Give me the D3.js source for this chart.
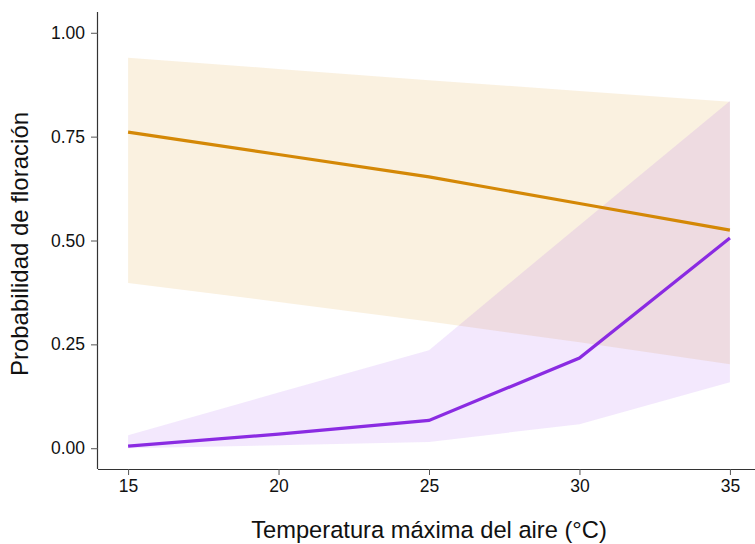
<!DOCTYPE html>
<html>
<head>
<meta charset="utf-8">
<script src="https://cdn.jsdelivr.net/npm/d3@7"></script>
<style>
  body { margin: 0; background: #fff; }
  text { font-family: "Liberation Sans", Arial, sans-serif; }
</style>
</head>
<body>
<div id="chart-container"></div>
<script>
// temperatures (°C)
const temps = [15, 20, 25, 30, 35]

// series 1 (orange)
const orangeFit = [0.761, 0.707, 0.653, 0.589, 0.525]
const orangeLow = [0.398, 0.352, 0.305, 0.255, 0.202]
const orangeHigh = [0.940, 0.913, 0.886, 0.860, 0.834]

// series 2 (purple)
const purpleFit = [0.005, 0.034, 0.067, 0.217, 0.506]
const purpleLow = [0.000, 0.007, 0.015, 0.058, 0.159]
const purpleHigh = [0.031, 0.134, 0.236, 0.537, 0.836]

const yTicks = [0, 0.25, 0.5, 0.75, 1]
const xTicks = [15, 20, 25, 30, 35]

const w = 755, h = 544

const svg = d3.select('#chart-container')
  .append('svg')
  .attr('width', w)
  .attr('height', h)

const xScale = d3.scaleLinear()
  .domain([14, 36])
  .range([98, 760])

const yScale = d3.scaleLinear()
  .domain([-0.05, 1.05])
  .range([469, 12])

const series = [
  { fit: orangeFit, low: orangeLow, high: orangeHigh, color: '#d48806', fill: '#d98e04', alpha: 0.12 },
  { fit: purpleFit, low: purpleLow, high: purpleHigh, color: '#8a2be2', fill: '#a040f0', alpha: 0.12 }
]

const area = d3.area()
  .x(d => xScale(d.t))
  .y0(d => yScale(d.lo))
  .y1(d => yScale(d.hi))

const line = d3.line()
  .x(d => xScale(d.t))
  .y(d => yScale(d.v))

// ribbons
series.forEach(s => {
  svg.append('path')
    .datum(temps.map((t, i) => ({ t, lo: s.low[i], hi: s.high[i] })))
    .attr('d', area)
    .attr('fill', s.fill)
    .attr('fill-opacity', s.alpha)
})

// fitted lines
series.forEach(s => {
  svg.append('path')
    .datum(temps.map((t, i) => ({ t, v: s.fit[i] })))
    .attr('d', line)
    .attr('fill', 'none')
    .attr('stroke', s.color)
    .attr('stroke-width', 3.2)
})

// axes
const xAxis = d3.axisBottom(xScale).tickValues(xTicks).tickSize(6).tickPadding(5)
const gx = svg.append('g')
  .attr('transform', `translate(0, 469)`)
  .call(xAxis)
gx.select('.domain').attr('d', 'M98,0.5H760').attr('stroke', '#333').attr('stroke-width', 1.2)

const yAxis = d3.axisLeft(yScale).tickValues(yTicks).tickFormat(d3.format('.2f')).tickSize(7).tickPadding(6)
const gy = svg.append('g')
  .attr('transform', `translate(98, 0)`)
  .call(yAxis)
gy.select('.domain').attr('d', 'M-0.5,12V469').attr('stroke', '#333').attr('stroke-width', 1.2)

svg.selectAll('.tick line').attr('stroke', '#555')
svg.selectAll('.tick text')
  .attr('fill', '#111')
  .style('font-size', '17.5px')
  .style('font-family', '"Liberation Sans", Arial, sans-serif')

svg.append('text')
  .attr('x', 429)
  .attr('y', 538)
  .attr('text-anchor', 'middle')
  .style('font-size', '23.7px')
  .attr('fill', '#111')
  .text('Temperatura máxima del aire (°C)')

svg.append('text')
  .attr('transform', 'translate(28, 244) rotate(-90)')
  .attr('text-anchor', 'middle')
  .style('font-size', '24px')
  .attr('fill', '#111')
  .text('Probabilidad de floración')
</script>
</body>
</html>
